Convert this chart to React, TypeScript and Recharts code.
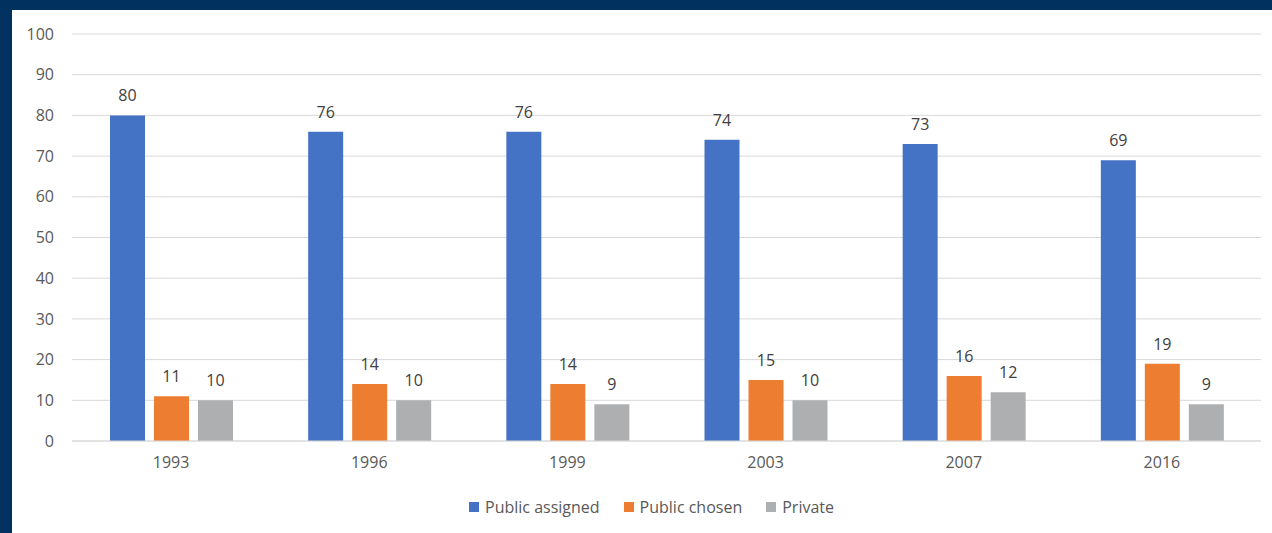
import { BarChart, Bar, XAxis, YAxis, CartesianGrid, Legend, LabelList } from 'recharts';

const years = ['1993', '1996', '1999', '2003', '2007', '2016'];
const publicAssigned = [80, 76, 76, 74, 73, 69];
const publicChosen = [11, 14, 14, 15, 16, 19];
const privateSchool = [10, 10, 9, 10, 12, 9];
const yTicks = [0, 10, 20, 30, 40, 50, 60, 70, 80, 90, 100];

const seriesInfo = [
  { key: 'assigned', name: 'Public assigned', color: '#4472C4' },
  { key: 'chosen', name: 'Public chosen', color: '#ED7D31' },
  { key: 'private', name: 'Private', color: '#AEAFB1' },
];

const data = years.map((year, i) => ({
  year,
  assigned: publicAssigned[i],
  chosen: publicChosen[i],
  private: privateSchool[i],
}));

const font = '"Open Sans", sans-serif';
const gridColor = '#D9D9D9';

const renderLegend = () => (
  <div style={{ display: 'flex', alignItems: 'center', height: 24, fontFamily: font, fontSize: 16, color: '#595959' }}>
    {seriesInfo.map((s, i) => (
      <div key={s.key} style={{ display: 'flex', alignItems: 'center', marginLeft: i === 0 ? 0 : 24 }}>
        <span style={{ width: 10, height: 10, background: s.color, marginRight: 6, display: 'inline-block' }} />
        <span>{s.name}</span>
      </div>
    ))}
  </div>
);

export default function App() {
  return (
    <div style={{ position: 'absolute', left: 0, top: 0, width: 1272, height: 533, background: '#01315F' }}>
      <div style={{ position: 'absolute', left: 12, top: 10, right: 0, bottom: 0, background: '#ffffff' }} />
      <div style={{ position: 'absolute', left: 0, top: 0 }}>
        <BarChart
          width={1272}
          height={533}
          data={data}
          margin={{ top: 34, right: 11, left: 12, bottom: 28 }}
          barSize={35}
          barGap={9}
        >
          <CartesianGrid vertical={false} stroke={gridColor} strokeWidth={1} />
          <XAxis
            dataKey="year"
            height={40}
            tickLine={false}
            axisLine={{ stroke: gridColor }}
            tickMargin={10}
            tick={{ fontSize: 16, fill: '#595959', fontFamily: font }}
          />
          <YAxis
            domain={[0, 100]}
            ticks={yTicks}
            width={60}
            axisLine={false}
            tickLine={false}
            tickMargin={12}
            tick={{ fontSize: 16, fill: '#595959', fontFamily: font }}
          />
          <Legend
            verticalAlign="bottom"
            content={renderLegend}
            wrapperStyle={{ left: 469, top: 495, bottom: 'auto', width: 'auto' }}
          />
          {seriesInfo.map((s) => (
            <Bar key={s.key} dataKey={s.key} name={s.name} fill={s.color} isAnimationActive={false}>
              <LabelList
                dataKey={s.key}
                position="top"
                offset={14}
                style={{ fontSize: 16, fill: '#404040', fontFamily: font }}
              />
            </Bar>
          ))}
        </BarChart>
      </div>
    </div>
  );
}
